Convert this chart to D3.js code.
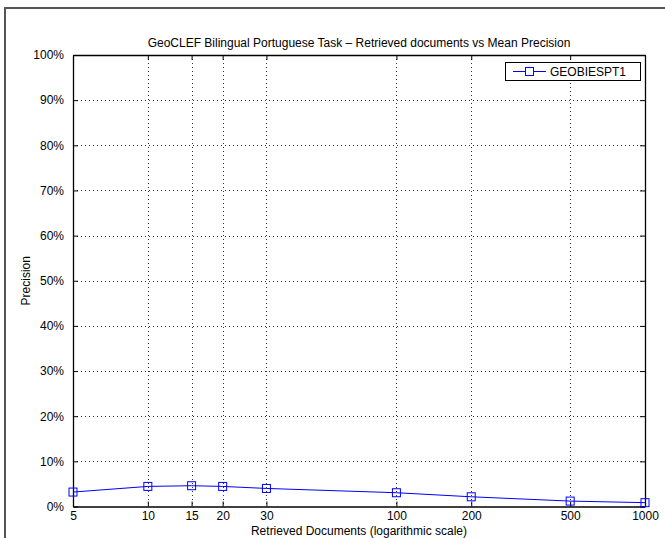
<!DOCTYPE html>
<html>
<head>
<meta charset="utf-8">
<script src="https://cdn.jsdelivr.net/npm/d3@7"></script>
<style>
  body { margin: 0; background: #fff; }
  svg text { font-family: "Liberation Sans", Arial, Helvetica, sans-serif; fill: #000; }
</style>
</head>
<body>
<div id="chart"></div>
<script>
// data
var docs = [5, 10, 15, 20, 30, 100, 200, 500, 1000];
var precision = [3.2, 4.45, 4.6, 4.45, 4.0, 3.05, 2.15, 1.2, 0.85];
var xTicks = [5, 10, 15, 20, 30, 100, 200, 500, 1000];
var yTicks = [0, 10, 20, 30, 40, 50, 60, 70, 80, 90, 100];
var seriesName = "GEOBIESPT1";

var W = 665, H = 538;
var plotL = 73, plotR = 645, plotT = 55, plotB = 506.5;

var svg = d3.select("#chart").append("svg")
    .attr("width", W)
    .attr("height", H);

// outer figure frame
svg.append("rect")
    .attr("x", 5).attr("y", 8)
    .attr("width", W + 10).attr("height", H + 10)
    .style("fill", "none")
    .style("stroke", "#555")
    .style("stroke-width", 2);

var x = d3.scaleLog().domain([5, 1000]).range([plotL, plotR]);
var y = d3.scaleLinear().domain([0, 100]).range([plotB, plotT]);

// grid lines (dotted)
var grid = svg.append("g").attr("class", "grid");
grid.selectAll(".vg")
    .data(xTicks.slice(1, -1))
    .enter().append("line")
    .attr("x1", function(d) { return Math.round(x(d)) + 0.5; })
    .attr("x2", function(d) { return Math.round(x(d)) + 0.5; })
    .attr("y1", plotT).attr("y2", plotB)
    .style("stroke", "#333")
    .style("stroke-width", 1)
    .style("stroke-dasharray", "1,3");

grid.selectAll(".hg")
    .data(yTicks.slice(1, -1))
    .enter().append("line")
    .attr("x1", plotL).attr("x2", plotR)
    .attr("y1", function(d) { return Math.round(y(d)) + 0.5; })
    .attr("y2", function(d) { return Math.round(y(d)) + 0.5; })
    .style("stroke", "#333")
    .style("stroke-width", 1)
    .style("stroke-dasharray", "1,3");

// axes: ticks pointing inward on all four sides
var xBottom = svg.append("g")
    .attr("transform", "translate(0," + plotB + ")")
    .call(d3.axisBottom(x).tickValues(xTicks).tickFormat(d3.format("d")).tickSizeInner(-5).tickSizeOuter(0).tickPadding(5));
var xTop = svg.append("g")
    .attr("transform", "translate(0," + plotT + ")")
    .call(d3.axisTop(x).tickValues(xTicks).tickFormat("").tickSizeInner(-5).tickSizeOuter(0));
var yLeft = svg.append("g")
    .attr("transform", "translate(" + plotL + ",0)")
    .call(d3.axisLeft(y).tickValues(yTicks).tickFormat(function(d) { return d + "%"; }).tickSizeInner(-5).tickSizeOuter(0).tickPadding(9));
var yRight = svg.append("g")
    .attr("transform", "translate(" + plotR + ",0)")
    .call(d3.axisRight(y).tickValues(yTicks).tickFormat("").tickSizeInner(-5).tickSizeOuter(0));

[xBottom, xTop, yLeft, yRight].forEach(function(g) {
    g.selectAll("path").style("stroke", "#000").style("stroke-width", 1.3);
    g.selectAll("line").style("stroke", "#000");
    g.selectAll("text")
        .style("font-size", "12px")
        .style("font-family", "'Liberation Sans', Arial, sans-serif")
        .style("fill", "#000");
});

// the line
var line = d3.line()
    .x(function(d, i) { return x(docs[i]); })
    .y(function(d) { return y(d); });

svg.append("path")
    .datum(precision)
    .attr("d", line)
    .style("fill", "none")
    .style("stroke", "#0000ff")
    .style("stroke-width", 1);

svg.selectAll(".mk")
    .data(precision)
    .enter().append("rect")
    .attr("class", "mk")
    .attr("x", function(d, i) { return x(docs[i]) - 4; })
    .attr("y", function(d) { return y(d) - 4; })
    .attr("width", 8).attr("height", 8)
    .style("fill", "none")
    .style("stroke", "#0000ff")
    .style("stroke-width", 1);

// title and labels
svg.append("text")
    .attr("x", (plotL + plotR) / 2)
    .attr("y", 47)
    .attr("text-anchor", "middle")
    .style("font-size", "12px")
    .text("GeoCLEF Bilingual Portuguese Task \u2013 Retrieved documents vs Mean Precision");

svg.append("text")
    .attr("x", (plotL + plotR) / 2)
    .attr("y", 535)
    .attr("text-anchor", "middle")
    .style("font-size", "12px")
    .text("Retrieved Documents (logarithmic scale)");

svg.append("text")
    .attr("transform", "translate(30," + ((plotT + plotB) / 2) + ") rotate(-90)")
    .attr("text-anchor", "middle")
    .style("font-size", "12px")
    .text("Precision");

// legend
var lg = svg.append("g").attr("transform", "translate(505,62)");
lg.append("rect")
    .attr("x", 0.5).attr("y", 0.5)
    .attr("width", 135).attr("height", 18)
    .style("fill", "#fff")
    .style("stroke", "#000")
    .style("stroke-width", 1);
lg.append("line")
    .attr("x1", 8).attr("x2", 41)
    .attr("y1", 9.5).attr("y2", 9.5)
    .style("stroke", "#0000ff")
    .style("stroke-width", 1);
lg.append("rect")
    .attr("x", 20.5).attr("y", 5.5)
    .attr("width", 8).attr("height", 8)
    .style("fill", "#fff")
    .style("stroke", "#0000ff")
    .style("stroke-width", 1);
lg.append("text")
    .attr("x", 45).attr("y", 14)
    .style("font-size", "12px")
    .text(seriesName);
</script>
</body>
</html>
